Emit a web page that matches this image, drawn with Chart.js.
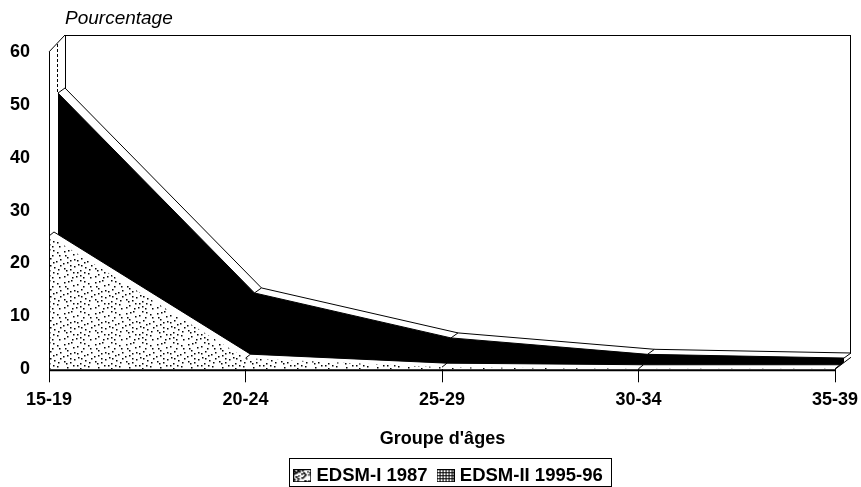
<!DOCTYPE html>
<html lang="fr">
<head>
<meta charset="UTF-8" />
<title>EDSM</title>
<script src="https://cdn.jsdelivr.net/npm/chart.js"></script>
<style>
    html, body { margin: 0; padding: 0; background: #fff; }
    #wrap { width: 861px; height: 487px; }
</style>
</head>
<body>
<div id="wrap"><canvas id="c" width="861" height="487"></canvas></div>
<script>
const categories = ['15-19', '20-24', '25-29', '30-34', '35-39'];
const edsm1 = [25.2, 2.1, 0.4, 0.1, 0.1];
const edsm2 = [50.9, 13.1, 4.6, 1.5, 0.8];
const seriesNames = ['EDSM-I 1987', 'EDSM-II 1995-96'];
const yTicks = [0, 10, 20, 30, 40, 50, 60];

const font = 'Liberation Sans, Arial, sans-serif';
const xMax = 4.0814;
const yMax = 63.2;

// stipple for the first series
function stippleCanvas(w, h) {
    const cv = document.createElement('canvas');
    cv.width = w;
    cv.height = h;
    const g = cv.getContext('2d');
    g.fillStyle = '#fff';
    g.fillRect(0, 0, w, h);
    g.fillStyle = '#000';
    const dots = [[2,3],[9,1],[15,5],[22,2],[28,7],[5,9],[12,11],[19,10],[25,13],[1,15],
                  [8,17],[16,16],[23,19],[29,17],[4,22],[11,24],[18,22],[26,25],[2,28],[14,28],[21,29],
                  [6,2],[18,1],[26,4],[11,6],[3,7],[21,7],[8,12],[15,12],[29,11],[22,14],[5,14],
                  [12,18],[19,17],[2,20],[27,21],[8,21],[15,24],[22,24],[5,26],[10,29],[28,29],[18,27]];
    dots.forEach(d => g.fillRect(d[0] % w, d[1] % h, 1.5, 1.5));
    return cv;
}

function gridCanvas(w, h) {
    const cv = document.createElement('canvas');
    cv.width = w;
    cv.height = h;
    const g = cv.getContext('2d');
    g.fillStyle = '#fff';
    g.fillRect(0, 0, w, h);
    g.fillStyle = '#000';
    for (let i = 0; i < w; i += 3) g.fillRect(i, 0, 1, h);
    for (let j = 0; j < h; j += 3) g.fillRect(0, j, w, 1);
    return cv;
}

// small legend swatch with a border
function swatch(src) {
    const cv = document.createElement('canvas');
    cv.width = 18;
    cv.height = 13;
    const g = cv.getContext('2d');
    g.drawImage(src, 0, 0);
    g.strokeStyle = '#000';
    g.strokeRect(0.5, 0.5, 17, 12);
    return cv;
}

function pts(vals) {
    return vals.map((v, i) => ({ x: i, y: v }));
}

// hidden axes, shifted for the depth of the 3d look
function depthX(dx) { return { type: 'linear', display: false, min: -dx, max: xMax - dx }; }
function depthY(dy) { return { type: 'linear', display: false, min: -dy, max: yMax - dy }; }

const dots = document.createElement('canvas').getContext('2d').createPattern(stippleCanvas(31, 31), 'repeat');

// wall lines, depth edges and the frame of the legend
const frame = {
    id: 'frame',
    beforeDatasetsDraw(chart) {
        const s = chart.scales, ctx = chart.ctx;
        // the floor ends on the diagonal at the right
        ctx.save();
        ctx.beginPath();
        ctx.moveTo(s.x.getPixelForValue(0), chart.chartArea.top);
        ctx.lineTo(chart.chartArea.right, chart.chartArea.top);
        ctx.lineTo(chart.chartArea.right, s.yBack.getPixelForValue(0));
        ctx.lineTo(s.x.getPixelForValue(4), s.y.getPixelForValue(0));
        ctx.lineTo(s.x.getPixelForValue(0), s.y.getPixelForValue(0) + 2);
        ctx.closePath();
        ctx.clip();
    },
    afterDatasetsDraw(chart) {
        const s = chart.scales, ctx = chart.ctx, a = chart.chartArea;
        ctx.restore();
        ctx.save();
        ctx.strokeStyle = '#000';
        ctx.lineWidth = 1;
        function line(x1, y1, x2, y2) {
            ctx.beginPath();
            ctx.moveTo(x1, y1);
            ctx.lineTo(x2, y2);
            ctx.stroke();
        }
        const x0 = s.x.getPixelForValue(0), x4 = s.x.getPixelForValue(4);
        const y0 = s.y.getPixelForValue(0), y60 = s.y.getPixelForValue(60);
        // walls
        line(x0 + 0.5, y60, x0 + 0.5, y0);
        line(x0, y60, a.left + 16, a.top);
        line(a.left + 16, a.top + 0.5, a.right, a.top + 0.5);
        line(a.left + 16.5, a.top, a.left + 16.5, s.yBack.getPixelForValue(edsm2[0]));
        ctx.setLineDash([3, 2]);
        line(a.left + 8.5, a.top + 9, a.left + 8.5, s.yFront2.getPixelForValue(edsm2[0]));
        ctx.setLineDash([]);
        line(a.right - 0.5, a.top, a.right - 0.5, s.yBack.getPixelForValue(edsm2[4]));
        line(x4, y0, a.right, s.yBack.getPixelForValue(0));
        // ridges across the ribbons
        edsm2.forEach((v, i) => line(s.xFront2.getPixelForValue(i), s.yFront2.getPixelForValue(v),
                                     s.xBack.getPixelForValue(i), s.yBack.getPixelForValue(v)));
        edsm1.forEach((v, i) => line(s.x.getPixelForValue(i), s.y.getPixelForValue(v),
                                     s.xBack1.getPixelForValue(i), s.yBack1.getPixelForValue(v)));
        // the base line stops at the last category, not at the wall
        ctx.lineWidth = 2;
        line(x0, y0 + 1, x4, y0 + 1);
        ctx.lineWidth = 1;
        // pourcentage, above the y axis
        ctx.fillStyle = '#000';
        ctx.font = 'italic 19px ' + font;
        ctx.textBaseline = 'alphabetic';
        ctx.fillText('Pourcentage', 65, 24);
        // legend box, open at the bottom edge of the page
        const hb = chart.legend.legendHitBoxes;
        const left = Math.round(hb[0].left) - 8, right = Math.round(hb[1].left + hb[1].width) + 8;
        ctx.strokeRect(left + 0.5, 458.5, right - left, 28);
        ctx.restore();
    }
};

new Chart(document.getElementById('c').getContext('2d'), {
    type: 'scatter',
    data: {
        datasets: [
            // painted back to front: higher order goes first
            { label: seriesNames[0], data: pts(edsm1), xAxisID: 'x', yAxisID: 'y', order: 1, showLine: true,
              borderWidth: 0, backgroundColor: dots, fill: 'origin', pointRadius: 0, tension: 0 },
            { label: seriesNames[0] + ' top', data: pts(edsm1), xAxisID: 'xBack1', yAxisID: 'yBack1', order: 2, showLine: true,
              borderColor: '#000', borderWidth: 1, backgroundColor: '#fff', fill: { value: -0.8 }, pointRadius: 0, tension: 0 },
            { label: seriesNames[1], data: pts(edsm2), xAxisID: 'xFront2', yAxisID: 'yFront2', order: 3, showLine: true,
              borderColor: '#000', borderWidth: 1, backgroundColor: '#000', fill: { value: -1.5 }, pointRadius: 0, tension: 0 },
            { label: seriesNames[1] + ' top', data: pts(edsm2), xAxisID: 'xBack', yAxisID: 'yBack', order: 4, showLine: true,
              borderColor: '#000', borderWidth: 1, fill: false, pointRadius: 0, tension: 0 }
        ]
    },
    options: {
        responsive: false,
        animation: false,
        layout: { padding: { top: 35, right: 10, bottom: -8, left: 0 } },
        plugins: {
            title: { display: false },
            tooltip: { enabled: false },
            legend: {
                position: 'bottom',
                fullSize: false,
                labels: {
                    color: '#000',
                    font: { family: font, size: 18.5, weight: 'bold' },
                    usePointStyle: true,
                    pointStyleWidth: 10,
                    padding: 13,
                    generateLabels() {
                        return [
                            { text: seriesNames[0], pointStyle: swatch(stippleCanvas(18, 13)), datasetIndex: 0 },
                            { text: seriesNames[1], pointStyle: swatch(gridCanvas(18, 13)), datasetIndex: 2 }
                        ];
                    }
                }
            }
        },
        scales: {
            x: {
                type: 'linear', min: 0, max: xMax,
                grid: { drawOnChartArea: false, drawTicks: true, tickLength: 13, color: '#000' },
                border: { display: false },
                afterBuildTicks(scale) { scale.ticks = categories.map((c, i) => ({ value: i })); },
                afterFit(scale) { scale.paddingRight = 0; scale.paddingLeft = 0; },
                ticks: {
                    autoSkip: false, maxRotation: 0, padding: 7, color: '#000',
                    font: { family: font, size: 18, weight: 'bold' },
                    callback: (v) => categories[v]
                },
                title: {
                    display: true, text: "Groupe d'âges   ", color: '#000',
                    font: { family: font, size: 18, weight: 'bold' },
                    padding: { top: 10, bottom: 4 }
                }
            },
            y: {
                type: 'linear', min: 0, max: yMax,
                afterFit(scale) { scale.width = 49; },
                afterBuildTicks(scale) { scale.ticks = yTicks.map(v => ({ value: v })); },
                grid: { display: false, drawTicks: false },
                border: { display: false },
                ticks: {
                    padding: 19, color: '#000',
                    font: { family: font, size: 18, weight: 'bold' }
                }
            },
            xBack1: depthX(0.0254), yBack1: depthY(0.76),
            xFront2: depthX(0.0458), yFront2: depthY(1.33),
            xBack: depthX(0.0814), yBack: depthY(2.28)
        }
    },
    plugins: [frame]
});
</script>
</body>
</html>
